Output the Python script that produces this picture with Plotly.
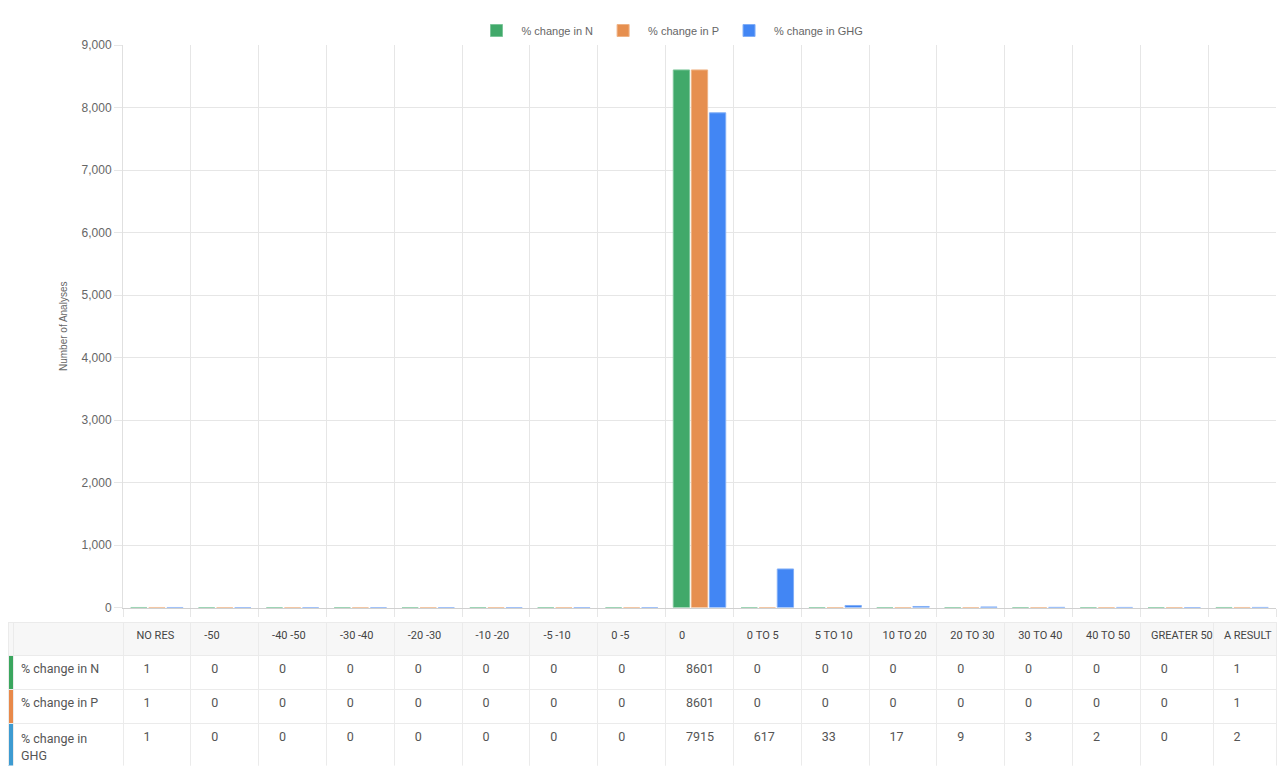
import plotly.graph_objects as go

categories = ["NO RES", "-50", "-40 -50", "-30 -40", "-20 -30", "-10 -20", "-5 -10", "0 -5",
              "0", "0 TO 5", "5 TO 10", "10 TO 20", "20 TO 30", "30 TO 40", "40 TO 50",
              "GREATER 50", "A RESULT"]
series_names = ["% change in N", "% change in P", "% change in GHG"]
table_labels = ["% change in N", "% change in P", "% change in<br>GHG"]
change_n = [1, 0, 0, 0, 0, 0, 0, 0, 8601, 0, 0, 0, 0, 0, 0, 0, 1]
change_p = [1, 0, 0, 0, 0, 0, 0, 0, 8601, 0, 0, 0, 0, 0, 0, 0, 1]
change_ghg = [1, 0, 0, 0, 0, 0, 0, 0, 7915, 617, 33, 17, 9, 3, 2, 0, 2]

bar_colors = ["#41a96a", "#e68f4f", "#4286f4"]
bar_edges = ["#7cc69a", "#efb385", "#80aef7"]
strip_colors = ["#3aa65e", "#e8894a", "#3d9bd1"]

W, H = 1284, 773
ML, MR, MT = 8, 8, 45
plot_left = 123
plot_bottom = 613
table_top = 628
paper_w = W - ML - MR
paper_h = H - MT

fig = go.Figure()
for name, vals, c, e in zip(series_names, [change_n, change_p, change_ghg], bar_colors, bar_edges):
    fig.add_trace(go.Bar(x=categories, y=vals, name=name, marker=dict(color=c, line=dict(color=e, width=1)),
                         hoverinfo="x+y+name"))

NB = "\u00a0"
header_vals = ["", ""] + [NB * 2 + c.replace(" ", NB) for c in categories[:-2]] + \
              [NB + c.replace(" ", NB) for c in categories[-2:]]
cell_cols = [["", "", ""], [l for l in table_labels]]
for i in range(len(categories)):
    cell_cols.append([NB * 3 + " " + str(v) for v in (change_n[i], change_p[i], change_ghg[i])])

cat_w = (W - MR - plot_left) / len(categories)
colw = [5, plot_left - ML - 5] + [cat_w] * (len(categories) - 2) + [cat_w + 5, cat_w - 5]
cell_fill = [strip_colors] + [["#ffffff"] * 3] * (len(categories) + 1)

fig.add_trace(go.Table(
    domain=dict(x=[0, 1], y=[0, (H - table_top) / paper_h]),
    columnwidth=colw,
    header=dict(values=header_vals, fill_color="#f7f7f7", line_color="#ebebeb",
                align="left", height=33,
                font=dict(family="Roboto", size=11, color="#444")),
    cells=dict(values=cell_cols, fill_color=cell_fill, line_color="#ebebeb",
               align="left", height=34,
               font=dict(family="Roboto", size=12.5, color="#555")),
))

fig.update_layout(
    width=W, height=H,
    margin=dict(l=ML, r=MR, t=MT, b=0),
    paper_bgcolor="white", plot_bgcolor="white",
    barmode="group", bargap=0.2, bargroupgap=0.1,
    font=dict(family="Liberation Sans, Arial, sans-serif", color="#666"),
    legend=dict(orientation="h", x=(670 - ML) / paper_w, xanchor="center", y=1.0, yanchor="bottom",
                font=dict(size=11, color="#666"), itemwidth=40),
    xaxis=dict(domain=[(plot_left - ML) / paper_w, 1], type="category", tickson="boundaries",
               showgrid=True, gridcolor="#e6e6e6", gridwidth=1, showticklabels=False,
               ticks="outside", ticklen=8, tickcolor="#e6e6e6",
               showline=True, linecolor="#d0d0d0", linewidth=1, fixedrange=True),
    yaxis=dict(domain=[(H - plot_bottom) / paper_h, 1], range=[0, 9000], dtick=1000,
               tickformat=",", showgrid=True, gridcolor="#e6e6e6", gridwidth=1,
               ticks="outside", ticklen=8, tickcolor="#e6e6e6",
               showline=True, linecolor="#e0e0e0", zeroline=False,
               tickfont=dict(size=12, color="#666"),
               title=dict(text="Number of Analyses", font=dict(size=10, color="#666"), standoff=12)),
)

fig.write_html("out.html")
